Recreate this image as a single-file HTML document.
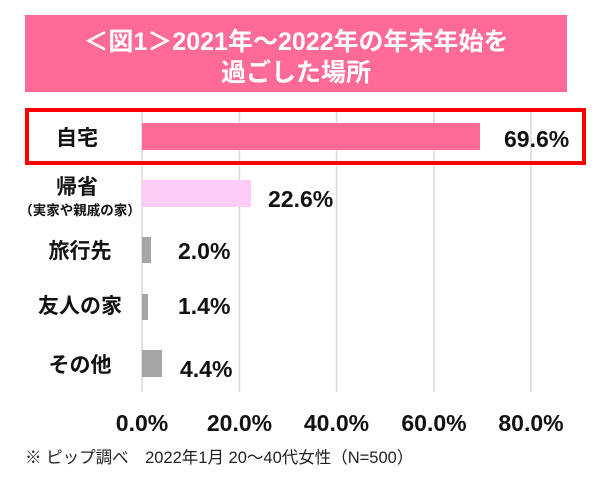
<!DOCTYPE html>
<html><head><meta charset="utf-8"><style>
html,body{margin:0;padding:0;background:#fff;}
svg{display:block}
text{font-family:"Liberation Sans","Noto Sans CJK JP",sans-serif;font-weight:bold;fill:#111}
</style></head><body>
<svg width="604" height="480" viewBox="0 0 604 480" xmlns="http://www.w3.org/2000/svg">
<rect x="25" y="15" width="542" height="77" fill="#ff6b96"/>
<text x="296" y="50" text-anchor="middle" font-size="25" style="fill:#fff">＜図1＞2021年～2022年の年末年始を</text>
<text x="296" y="81" text-anchor="middle" font-size="25" style="fill:#fff">過ごした場所</text>
<g stroke="#d9d9d9" stroke-width="1.5">
<line x1="142" y1="112" x2="142" y2="392"/>
<line x1="239.5" y1="112" x2="239.5" y2="392"/>
<line x1="336.5" y1="112" x2="336.5" y2="392"/>
<line x1="434" y1="112" x2="434" y2="392"/>
<line x1="531" y1="112" x2="531" y2="392"/>
</g>
<rect x="27" y="110" width="557" height="53" fill="none" stroke="#ff0000" stroke-width="4"/>
<rect x="142" y="123" width="338" height="27" fill="#ff6b96"/>
<rect x="142" y="180" width="109" height="27" fill="#ffccf7"/>
<rect x="142" y="237" width="9" height="26" fill="#a6a6a6"/>
<rect x="142" y="294" width="6" height="26" fill="#a6a6a6"/>
<rect x="142" y="350" width="20" height="27" fill="#a6a6a6"/>
<g font-size="21" text-anchor="middle">
<text x="77" y="145">自宅</text>
<text x="77" y="194">帰省</text>
<text x="80" y="258">旅行先</text>
<text x="80" y="313">友人の家</text>
<text x="80" y="372">その他</text>
</g>
<text x="80" y="215" font-size="13.5" text-anchor="middle">（実家や親戚の家）</text>
<g font-size="23">
<text x="504" y="147">69.6%</text>
<text x="268" y="207">22.6%</text>
<text x="178" y="259">2.0%</text>
<text x="178" y="314">1.4%</text>
<text x="180" y="377">4.4%</text>
</g>
<g font-size="23" text-anchor="middle">
<text x="142" y="431">0.0%</text>
<text x="239.5" y="431">20.0%</text>
<text x="336.5" y="431">40.0%</text>
<text x="434" y="431">60.0%</text>
<text x="531" y="431">80.0%</text>
</g>
<text x="25" y="463" font-size="16.5" style="font-weight:normal;fill:#222">※ ピップ調べ　2022年1月  20～40代女性（N=500）</text>
</svg>
</body></html>
